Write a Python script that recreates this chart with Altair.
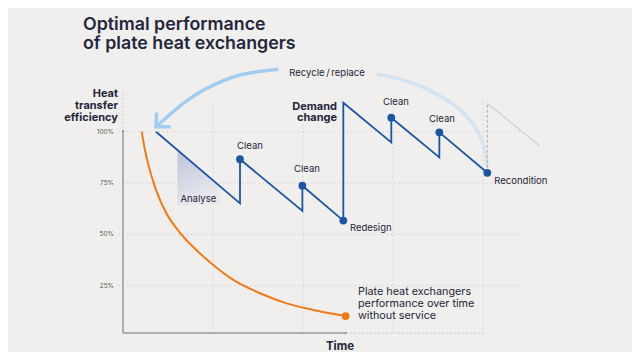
import altair as alt
import pandas as pd

# ---- scale domains (time units, efficiency %) ----
XMIN, XMAX = -1.2778, 5.6556
YMIN, YMAX = -7.306, 160.25

# ---- blue serviced-performance sawtooth ----
blue_t = [0.367, 1.300, 1.300, 1.993, 1.993, 2.448, 2.448, 2.981, 2.981, 3.515, 3.515, 4.048]
blue_e = [100.0, 65.1, 86.6, 61.4, 73.7, 56.7, 114.1, 94.8, 106.8, 87.5, 99.7, 80.0]

# service event dots
dot_t = [1.300, 1.993, 2.448, 2.981, 3.515, 4.048]
dot_e = [86.6, 73.7, 56.7, 106.8, 99.7, 80.0]

# ---- orange: performance without service ----
orange_t = [0.208, 0.240, 0.290, 0.374, 0.485, 0.620, 0.781, 1.003, 1.226, 1.522, 1.819, 2.114, 2.474]
orange_e = [100.0, 92.0, 82.5, 70.8, 60.0, 51.5, 43.8, 35.1, 27.8, 21.3, 16.4, 13.2, 10.2]

# ---- recondition ghost (grey) ----
ghost_vt = [4.048, 4.048]
ghost_ve = [80.0, 113.8]
ghost_dt = [4.048, 4.626]
ghost_de = [113.8, 93.2]

# ---- recycle / replace arcs ----
arcL_t = [1.726, 1.300, 0.930, 0.670, 0.411, 0.367]
arcL_e = [130.4, 127.6, 121.1, 113.8, 104.1, 102.4]
head_t = [0.374, 0.367, 0.530]
head_e = [109.3, 102.4, 102.4]
arcR_t = [2.819, 3.226, 3.597, 3.856, 3.986, 4.033, 4.048]
arcR_e = [128.1, 123.6, 115.4, 105.7, 96.0, 87.8, 83.0]

# ---- analyse shading ----
analyse_t = [0.604, 1.078]
analyse_top = [91.3, 73.5]
analyse_bot = [64.3, 64.3]

# ---- axes / grid ----
ytick_vals = [100, 75, 50, 25]
ytick_labels = ["100%", "75%", "50%", "25%"]
xgrid_vals = [1, 2, 3, 4]

# ---- annotation labels ----
center_labels = ["Clean", "Clean", "Clean", "Clean", "Analyse", "Recycle\u2009/\u2009replace"]
center_t = [1.411, 2.044, 3.033, 3.544, 0.837, 2.267]
center_e = [93.0, 81.8, 114.5, 106.2, 67.2, 128.6]

left_labels = ["Redesign", "Recondition"]
left_t = [2.522, 4.126]
left_e = [53.1, 76.0]

note_labels = ["Plate heat exchangers", "performance over time", "without service"]
note_t = [2.611, 2.611, 2.611]
note_e = [21.9, 16.1, 10.2]

bold_right_labels = ["Heat", "transfer", "efficiency", "Demand", "change"]
bold_right_t = [-0.056, -0.056, -0.056, 2.378, 2.378]
bold_right_e = [116.9, 111.1, 105.2, 110.6, 105.0]

title_lines = ["Optimal performance", "of plate heat exchangers"]

BG = "#f0efed"
BLUE = "#1c56a3"
ORANGE = "#f07a17"
TXT = "#23263a"
GRID = "#d2d2d2"
AX = "#9a9a9a"

xs = alt.Scale(domain=[XMIN, XMAX], nice=False, zero=False)
ys = alt.Scale(domain=[YMIN, YMAX], nice=False, zero=False)


def X(f="t"):
    return alt.X(f"{f}:Q", scale=xs, axis=None)


def Y(f="e"):
    return alt.Y(f"{f}:Q", scale=ys, axis=None)


def seq(ts, es):
    return pd.DataFrame({"t": ts, "e": es, "i": list(range(len(ts)))})


# grid
hgrid = alt.Chart(pd.DataFrame({"e": ytick_vals, "t0": [-0.05] * 4, "t1": [4.42] * 4})).mark_rule(
    color=GRID, strokeDash=[1.5, 2.5], strokeWidth=1
).encode(x=X("t0"), x2="t1:Q", y=Y("e"))

vgrid = alt.Chart(pd.DataFrame({"t": xgrid_vals, "e0": [1.95] * 4, "e1": [115.5] * 4})).mark_rule(
    color=GRID, strokeDash=[1.5, 2.5], strokeWidth=1
).encode(x=X("t"), y=Y("e0"), y2="e1:Q")

# axes
yaxis = alt.Chart(pd.DataFrame({"t": [0], "e0": [1.95], "e1": [100]})).mark_rule(
    color=AX, strokeWidth=1.5
).encode(x=X("t"), y=Y("e0"), y2="e1:Q")
yaxis_dot = alt.Chart(pd.DataFrame({"t": [0], "e0": [100], "e1": [120]})).mark_rule(
    color="#c4c4c4", strokeDash=[1.5, 2.5], strokeWidth=1
).encode(x=X("t"), y=Y("e0"), y2="e1:Q")
xaxis = alt.Chart(pd.DataFrame({"e": [1.95], "t0": [0], "t1": [2.478]})).mark_rule(
    color=AX, strokeWidth=1.5
).encode(x=X("t0"), x2="t1:Q", y=Y("e"))
xaxis_dot = alt.Chart(pd.DataFrame({"e": [1.95], "t0": [2.478], "t1": [4.0]})).mark_rule(
    color="#b8b8b8", strokeDash=[1.5, 2.5], strokeWidth=1
).encode(x=X("t0"), x2="t1:Q", y=Y("e"))
yarrow = alt.Chart(pd.DataFrame({"t": [0], "e": [100.5]})).mark_point(
    shape="triangle-up", filled=True, color=AX, size=10, opacity=1
).encode(x=X(), y=Y())
xarrow = alt.Chart(pd.DataFrame({"t": [2.482], "e": [1.95]})).mark_point(
    shape="triangle-right", filled=True, color=AX, size=10, opacity=1
).encode(x=X(), y=Y())

ytick_text = alt.Chart(pd.DataFrame({"t": [-0.1] * 4, "e": ytick_vals, "lab": ytick_labels})).mark_text(
    align="right", baseline="middle", fontSize=6.5, color="#5a5a5a"
).encode(x=X(), y=Y(), text="lab:N")

# analyse shading
analyse = alt.Chart(pd.DataFrame({"t": analyse_t, "e": analyse_top, "e2": analyse_bot})).mark_area(
    color=alt.Gradient(
        gradient="linear",
        stops=[alt.GradientStop(color="#b9c0d8", offset=0),
               alt.GradientStop(color="#e9e9ee", offset=1)],
        x1=0, x2=0.4, y1=0, y2=1,
    ),
    opacity=0.95,
).encode(x=X(), y=Y(), y2="e2:Q")

# arcs
arcL = alt.Chart(seq(arcL_t, arcL_e)).mark_line(
    color="#a3cdf0", strokeWidth=3.5, interpolate="cardinal"
).encode(x=X(), y=Y(), order="i:Q")
head = alt.Chart(seq(head_t, head_e)).mark_line(
    color="#a3cdf0", strokeWidth=3.5, strokeJoin="miter"
).encode(x=X(), y=Y(), order="i:Q")
arcR = alt.Chart(seq(arcR_t, arcR_e)).mark_line(
    color="#d4e4f2", strokeWidth=3.5, interpolate="cardinal"
).encode(x=X(), y=Y(), order="i:Q")

# ghost
ghost_v = alt.Chart(seq(ghost_vt, ghost_ve)).mark_line(
    color="#b5b5b5", strokeWidth=1.2, strokeDash=[3, 2]
).encode(x=X(), y=Y(), order="i:Q")
ghost_d = alt.Chart(seq(ghost_dt, ghost_de)).mark_line(
    color="#c2c2c2", strokeWidth=1
).encode(x=X(), y=Y(), order="i:Q")

# data lines
orange = alt.Chart(seq(orange_t, orange_e)).mark_line(
    color=ORANGE, strokeWidth=2, interpolate="monotone"
).encode(x=X(), y=Y(), order="i:Q")
orange_dot = alt.Chart(pd.DataFrame({"t": orange_t[-1:], "e": orange_e[-1:]})).mark_circle(
    color=ORANGE, size=60, opacity=1
).encode(x=X(), y=Y())

blue = alt.Chart(seq(blue_t, blue_e)).mark_line(
    color=BLUE, strokeWidth=1.8
).encode(x=X(), y=Y(), order="i:Q")
blue_dots = alt.Chart(pd.DataFrame({"t": dot_t, "e": dot_e})).mark_circle(
    color=BLUE, size=60, opacity=1
).encode(x=X(), y=Y())

# labels
ctext = alt.Chart(pd.DataFrame({"t": center_t, "e": center_e, "lab": center_labels})).mark_text(
    align="center", baseline="middle", fontSize=9.5, color=TXT, font="Inter"
).encode(x=X(), y=Y(), text="lab:N")
ltext = alt.Chart(pd.DataFrame({"t": left_t, "e": left_e, "lab": left_labels})).mark_text(
    align="left", baseline="middle", fontSize=9.5, color=TXT, font="Inter"
).encode(x=X(), y=Y(), text="lab:N")
ntext = alt.Chart(pd.DataFrame({"t": note_t, "e": note_e, "lab": note_labels})).mark_text(
    align="left", baseline="middle", fontSize=10.8, color=TXT, font="Inter"
).encode(x=X(), y=Y(), text="lab:N")
btext = alt.Chart(pd.DataFrame({"t": bold_right_t, "e": bold_right_e, "lab": bold_right_labels})).mark_text(
    align="right", baseline="alphabetic", fontSize=11, fontWeight=700, color=TXT, font="Inter"
).encode(x=X(), y=Y(), text="lab:N")
time_text = alt.Chart(pd.DataFrame({"t": [2.411], "e": [-6.33], "lab": ["Time"]})).mark_text(
    align="center", baseline="alphabetic", fontSize=11.5, fontWeight=700, color=TXT, font="Inter"
).encode(x=X(), y=Y(), text="lab:N")

title = alt.Chart(pd.DataFrame({"lab": [0]})).mark_text(
    align="left", baseline="alphabetic", fontSize=17.8, fontWeight=600, color=TXT, font="Inter",
    lineHeight=19,
).encode(x=alt.value(75), y=alt.value(22), text=alt.value(title_lines))

chart = alt.layer(
    hgrid, vgrid, yaxis_dot, xaxis_dot, yaxis, xaxis, yarrow, xarrow, ytick_text,
    analyse, arcR, arcL, head, ghost_v, ghost_d,
    orange, orange_dot, blue, blue_dots,
    ctext, ltext, ntext, btext, time_text, title,
).properties(
    width=624, height=344,
    autosize=alt.AutoSizeParams(type="none"),
    padding=0,
).configure(background=BG, font="Inter").configure_view(stroke=None)

chart.save("out.html", embed_options={"renderer": "svg", "actions": False})
